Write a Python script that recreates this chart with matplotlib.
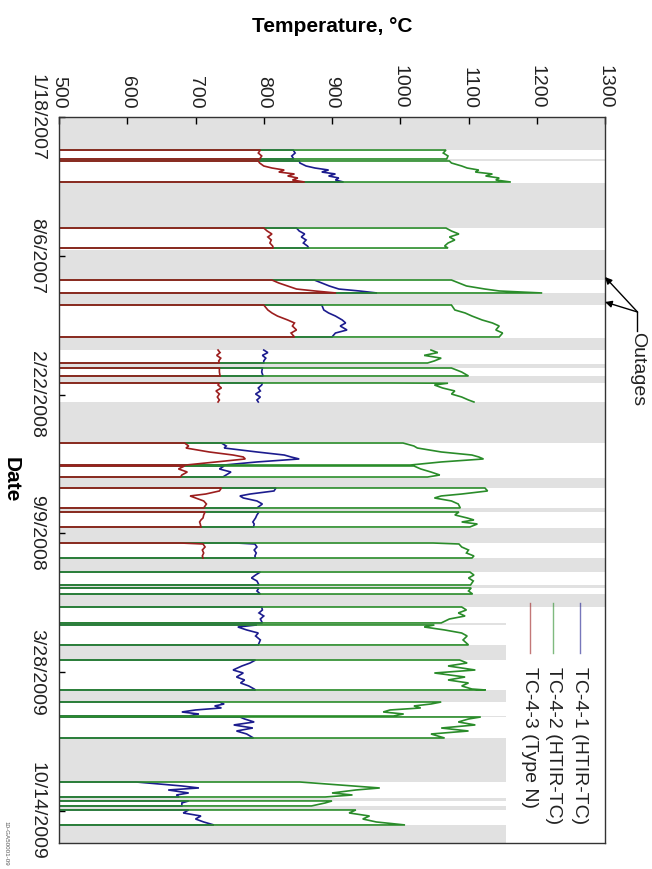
import numpy as np
import pandas as pd
import matplotlib
matplotlib.use("Agg")
import matplotlib.pyplot as plt
import matplotlib.dates as mdates
from matplotlib.lines import Line2D

plt.rcParams['font.family'] = ['Liberation Sans', 'DejaVu Sans']

# ---------------- data ----------------
START_DATE = "2007-01-18"          # day 0
DATE_TICKS = ["1/18/2007", "8/6/2007", "2/22/2008", "9/9/2008", "3/28/2009", "10/14/2009"]
END_DAY = 1046.2
TEMP_TICKS = [500, 600, 700, 800, 900, 1000, 1100, 1200, 1300]
OFF_TEMP = 25  # furnace off (ambient), off scale

SERIES_NAMES = ["TC-4-1 (HTIR-TC)", "TC-4-2 (HTIR-TC)", "TC-4-3 (Type N)"]

# operating periods: time (days since 1/18/2007) and temperatures
TIME = [
    [47.6, 51.9, 56.2, 60.5],
    [63.4, 66.3, 70.6, 73.5, 76.4, 79.3, 82.1, 85.0, 87.9, 90.8, 93.7],
    [160.0, 164.3, 168.6, 172.9, 177.2, 181.6, 185.9, 188.8],
    [234.9, 239.2, 243.5, 247.9, 250.7, 253.6],
    [270.9, 278.1, 282.4, 286.8, 292.5, 296.8, 301.2, 306.9, 311.3, 317.0],
    [335.8, 339.5, 343.5, 347.5, 351.5, 354.5],
    [361.7, 367.5, 373.2],
    [383.3, 383.6, 386.2, 390.5, 394.8, 399.2, 403.5, 407.8, 410.7],
    [469.8, 474.1, 477.0, 482.7, 487.1, 489.9, 492.8, 497.1, 501.5],
    [502.9, 507.2, 511.6, 515.9, 518.8],
    [534.6, 538.9, 543.3, 546.1, 549.0, 553.3, 557.7, 563.4],
    [569.2, 573.5, 577.8, 580.7, 583.6, 586.5, 590.8],
    [613.9, 615.3, 619.6, 624.0, 628.3, 632.6, 635.5],
    [655.7, 660.0, 664.3, 668.6, 674.4],
    [678.7, 683.0, 687.4],
    [706.1, 710.4, 714.7, 719.1, 723.4, 729.1],
    [732.0, 734.9, 739.2, 743.6, 747.9, 753.6, 760.8],
    [782.5, 786.8, 791.1, 796.9, 801.2, 807.0, 811.3, 815.6, 819.9, 824.3, 825.7],
    [843.0, 845.9, 848.7, 851.6, 854.5, 857.4, 860.3, 863.2],
    [864.6, 867.5, 871.8, 876.1, 880.5, 884.8, 889.1, 894.9],
    [958.3, 964.0, 966.9, 969.8, 974.1, 977.0, 979.9],
    [985.6, 988.5, 992.8],
    [998.6, 1002.9, 1007.3, 1011.6, 1015.9, 1020.2],
]

TC41 = [
    [843, 846, 841, 844],
    [852, 853, 862, 875, 895, 885, 905, 895, 910, 905, 917],
    [848, 852, 860, 855, 862, 858, 864, 866],
    [874, 885, 896, 910, 940, 966],
    [885, 888, 895, 905, 915, 920, 912, 922, 905, 900],
    [800, 806, 798, 803, 800, 800],
    [798, 797, 799],
    [760, 798, 797, 792, 795, 788, 795, 790, 792],
    [738, 745, 742, 790, 830, 840, 852, 790, 742],
    [742, 735, 752, 745, 740],
    [818, 815, 780, 765, 770, 790, 798, 790],
    [793, 790, 788, 786, 784, 786, 785],
    [760, 787, 790, 786, 789, 787, 788],
    [795, 788, 782, 790, 793],
    [793, 790, 795],
    [797, 798, 793, 800, 795, 798],
    [790, 762, 775, 792, 788, 795, 792],
    [788, 780, 768, 755, 770, 760, 772, 766, 778, 786, 788],
    [735, 742, 728, 738, 700, 680, 705, 690],
    [765, 772, 786, 756, 784, 760, 775, 785],
    [613, 680, 705, 660, 690, 672, 676],
    [690, 680, 680],
    [690, 682, 708, 700, 712, 727],
]

TC42 = [
    [1067, 1063, 1070, 1068],
    [1072, 1075, 1090, 1098, 1115, 1110, 1135, 1125, 1145, 1140, 1162],
    [1067, 1075, 1086, 1072, 1080, 1070, 1065, 1070],
    [1075, 1086, 1097, 1124, 1145, 1208],
    [1075, 1080, 1095, 1105, 1120, 1135, 1145, 1140, 1150, 1145],
    [1045, 1055, 1035, 1060, 1050, 1040],
    [1075, 1090, 1100],
    [985, 1070, 1050, 1062, 1080, 1075, 1090, 1100, 1108],
    [1004, 1020, 1025, 1060, 1105, 1115, 1122, 1060, 1015],
    [1020, 1030, 1045, 1058, 1040],
    [1124, 1128, 1090, 1060, 1050, 1075, 1085, 1088],
    [1086, 1080, 1098, 1108, 1090, 1113, 1102],
    [1048, 1086, 1090, 1100, 1097, 1108, 1105],
    [1102, 1108, 1100, 1107, 1103],
    [1104, 1100, 1106],
    [1090, 1097, 1085, 1095, 1072, 1060],
    [1050, 1035, 1065, 1090, 1098, 1092, 1100],
    [1087, 1098, 1070, 1110, 1050, 1095, 1070, 1100, 1090, 1105, 1125],
    [1060, 1045, 1020, 1030, 985, 975, 1005, 990],
    [1118, 1100, 1085, 1110, 1060, 1100, 1045, 1065],
    [853, 930, 970, 935, 900, 930, 890],
    [900, 890, 870],
    [935, 925, 955, 945, 965, 1007],
]

TC43 = [
    [795, 792, 797, 794],
    [792, 794, 800, 812, 830, 822, 845, 835, 850, 842, 860],
    [800, 805, 812, 806, 811, 809, 813, 814],
    [812, 822, 835, 848, 875, 906],
    [800, 806, 812, 820, 835, 845, 842, 848, 840, 845],
    [733, 736, 731, 737, 734, 735],
    [735, 735, 736],
    [680, 735, 733, 738, 730, 735, 732, 735, 733],
    [684, 690, 686, 720, 755, 770, 773, 730, 686],
    [684, 675, 688, 680, 678],
    [738, 735, 715, 692, 700, 712, 716, 712],
    [714, 712, 711, 708, 706, 707, 708],
    [678, 711, 714, 710, 712, 710, 711],
    None, None, None, None, None, None, None, None, None, None,
]

# heat-up at start / cool-down at end of each period recorded
RISE = [True] * 23
RISE[5] = False
DROP = [True] * 23
DROP[7] = False
DROP_TC43 = list(DROP)
DROP_TC43[12] = False

# outages (days) and the temperature extent of their shading
OUT_START = [0, 60.5, 95.1, 191.7, 253.6, 318.5, 355.5, 373.2, 410.7, 520.2, 563.4,
             592.2, 635.5, 674.4, 687.4, 729.5, 760.8, 825.7, 863.2, 894.9, 982.0,
             992.8, 1020.2]
OUT_END = [47.6, 63.4, 160.0, 234.9, 270.9, 335.8, 361.7, 383.3, 469.8, 534.6, 569.2,
           613.9, 655.7, 678.7, 706.1, 731.5, 782.5, 843.0, 864.6, 958.3, 985.6,
           998.6, 1046.2]
OUT_TOP = [1300] * 15 + [1155] * 8

OUTAGE_ARROWS = [230.6, 266.6]

# ---------------- helpers ----------------
base = np.datetime64(START_DATE)


def to_dt(days):
    days = np.asarray(days, dtype=float)
    return base + (days * 1440).round().astype('timedelta64[m]')


def to_num(days):
    return mdates.date2num(to_dt(days))


def build(series, drop_flags):
    t_all, v_all = [], []
    for i, (t, v) in enumerate(zip(TIME, series)):
        if v is None:
            continue
        tt, vv = list(t), list(v)
        if RISE[i]:
            tt = [t[0]] + tt
            vv = [OFF_TEMP] + vv
        if drop_flags[i]:
            tt = tt + [t[-1]]
            vv = vv + [OFF_TEMP]
        t_all += tt + [np.nan]
        v_all += vv + [np.nan]
    t_arr = np.array(t_all, dtype=float)
    y = np.full(len(t_arr), np.nan)
    ok = ~np.isnan(t_arr)
    y[ok] = to_num(t_arr[ok])
    return y, np.array(v_all, dtype=float)


BLUE = '#1c1c8e'
GREEN = '#2a8c2a'
RED = '#9c1e1e'
BAND = '#e1e1e1'

# ---------------- figure ----------------
fig = plt.figure(figsize=(6.52, 8.69), dpi=100)
L, R, T, B = 59, 605, 117, 843
W, H = 652, 869
ax = fig.add_axes([L / W, 1 - B / H, (R - L) / W, (B - T) / H])

for s, e, top in zip(OUT_START, OUT_END, OUT_TOP):
    ax.fill_betweenx(to_num([s, e]), 500, top, color=BAND, lw=0, zorder=0)

for series, col, flags in [(TC41, BLUE, DROP), (TC42, GREEN, DROP), (TC43, RED, DROP_TC43)]:
    y, v = build(series, flags)
    ax.plot(v, y, color=col, lw=1.2, zorder=2, solid_joinstyle='miter')

ax.set_xlim(500, 1300)
ax.set_ylim(to_num(END_DAY), to_num(0))

ax.xaxis.tick_top()
ax.set_xticks(TEMP_TICKS)
ax.set_xticklabels([str(v) for v in TEMP_TICKS], rotation=-90, fontsize=14)
tick_dates = mdates.date2num(pd.to_datetime(DATE_TICKS, format="%m/%d/%Y").to_pydatetime())
ax.set_yticks(tick_dates)
ax.set_yticklabels(DATE_TICKS, rotation=-90, fontsize=14, va='center')
ax.tick_params(axis='x', direction='in', length=5, width=1, pad=6, colors='black',
               labelcolor='#222222')
ax.tick_params(axis='y', direction='in', length=4, width=1, pad=10, labelcolor='#222222')
for sp in ax.spines.values():
    sp.set_linewidth(1.0)
    sp.set_color('#333333')

cx = (L + R) / 2 / W
fig.text(cx, 1 - 27 / H, "Temperature, °C", ha='center', va='center', fontsize=15,
         fontweight='bold')
fig.text(11 / W, 1 - ((T + B) / 2) / H, "Date", ha='center', va='center', rotation=-90,
         fontsize=15, fontweight='bold')
fig.text(6 / W, 1 - 843 / H, "10-GA50001-09", ha='center', va='center', rotation=-90,
         fontsize=4.5, color='#555555')

# legend (rotated like the rest of the chart)
leg_x = [0.954, 0.905, 0.862]
for name, col, xx in zip(SERIES_NAMES, [BLUE, GREEN, RED], leg_x):
    ax.add_line(Line2D([xx, xx], [0.331, 0.262], transform=ax.transAxes, color=col,
                       lw=1.0, alpha=0.6, clip_on=False))
    ax.text(xx, 0.243, name, transform=ax.transAxes, rotation=-90, ha='center', va='top',
            fontsize=14, color='#222222')

# outage annotation
trans = ax.get_yaxis_transform()
jx = 1.0595
jy = to_num(281.0)
ax.add_line(Line2D([jx, jx], [jy, to_num(308.0)], transform=trans, color='black', lw=1,
                   clip_on=False))
ax.text(jx, to_num(310.0), "Outages", transform=trans, rotation=-90, ha='center',
        va='top', fontsize=14, color='#222222', clip_on=False)
for d in OUTAGE_ARROWS:
    ax.annotate("", xy=(1300, to_num(d)), xycoords='data',
                xytext=(jx, jy), textcoords=trans,
                arrowprops=dict(arrowstyle='-|>', color='black', lw=1, shrinkA=0,
                                shrinkB=0, mutation_scale=10),
                annotation_clip=False)

fig.savefig("out.png", dpi=100)
